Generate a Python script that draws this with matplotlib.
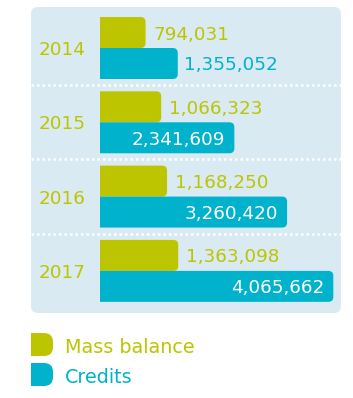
import matplotlib
matplotlib.use("Agg")
import matplotlib.pyplot as plt
from matplotlib.patches import FancyBboxPatch, Rectangle
import matplotlib.transforms as mtransforms

years = ["2014", "2015", "2016", "2017"]
mass_balance = [794031, 1066323, 1168250, 1363098]
credits = [1355052, 2341609, 3260420, 4065662]
legend_labels = ["Mass balance", "Credits"]

GREEN = "#bdc500"
BLUE = "#00b2cb"
BG = "#d9eaf2"
FS = 13.2

W, H = 353, 398
fig = plt.figure(figsize=(W / 100, H / 100), dpi=100)

# panel background
panel = FancyBboxPatch((31 / W, 1 - 313 / H), 310 / W, 306 / H,
                       boxstyle="round,pad=0,rounding_size=%f" % (7 / W),
                       mutation_aspect=W / H, transform=fig.transFigure,
                       facecolor=BG, edgecolor="none", zorder=-5)
fig.patches.append(panel)

ax = fig.add_axes([100 / W, 1 - 313 / H, 241 / W, 306 / H])
ax.set_zorder(2)
ax.set_facecolor("none")
for s in ax.spines.values():
    s.set_visible(False)
ax.set_xticks([])
ax.set_yticks([])
xmax = 4.2e6
ax.set_xlim(0, xmax)
ax.set_ylim(3.567, -0.552)

bh = 0.417
idx = list(range(len(years)))
g_bars = ax.barh([i - bh / 2 for i in idx], mass_balance, height=bh, color=GREEN)
b_bars = ax.barh([i + bh / 2 for i in idx], credits, height=bh, color=BLUE)

# round right corners
xpp = xmax / 241.0
ypp = (3.567 + 0.552) / 306.0
r = 5 * xpp
for bars in (g_bars, b_bars):
    for rect in bars:
        rect.set_visible(False)
        x0, y0 = rect.get_x(), rect.get_y()
        w, h = rect.get_width(), rect.get_height()
        p = FancyBboxPatch((x0 - 3 * r, y0), w + 3 * r, h,
                           boxstyle="round,pad=0,rounding_size=%f" % r,
                           mutation_aspect=ypp / xpp,
                           facecolor=rect.get_facecolor(), edgecolor="none",
                           zorder=2)
        ax.add_patch(p)

# separators
tr = mtransforms.blended_transform_factory(ax.transAxes, ax.transData)
for i in idx[:-1]:
    ax.plot([-69 / 241, 1.0], [i + 0.5, i + 0.5], transform=tr, color="white",
            lw=1.8, linestyle=(0, (1, 1.2)), clip_on=False, zorder=3,
            solid_capstyle="butt", dash_capstyle="butt")

# year labels
for i, y in enumerate(years):
    ax.annotate(y, xy=(0, i), xycoords=("axes fraction", "data"),
                xytext=(-38, 0), textcoords="offset pixels",
                ha="center", va="center_baseline", color=GREEN, fontsize=FS)

# value labels
for i in idx:
    ax.annotate(f"{mass_balance[i]:,}", xy=(mass_balance[i], i - bh / 2),
                xytext=(8, 0), textcoords="offset pixels",
                ha="left", va="center_baseline", color=GREEN, fontsize=FS)
    v = credits[i]
    if v / xpp > 110:
        ax.annotate(f"{v:,}", xy=(v, i + bh / 2), xytext=(-9, 0),
                    textcoords="offset pixels", ha="right",
                    va="center_baseline", color="white", fontsize=FS, zorder=4)
    else:
        ax.annotate(f"{v:,}", xy=(v, i + bh / 2), xytext=(6, 0),
                    textcoords="offset pixels", ha="left",
                    va="center_baseline", color=BLUE, fontsize=FS)

# legend
for k, (lab, col) in enumerate(zip(legend_labels, [GREEN, BLUE])):
    top = 333 + k * 30
    hgt = 23
    y0 = 1 - (top + hgt) / H
    fig.patches.append(Rectangle((31 / W, y0), 11 / W, hgt / H,
                                 transform=fig.transFigure, facecolor=col,
                                 edgecolor="none"))
    fig.patches.append(FancyBboxPatch((31 / W, y0), 22 / W, hgt / H,
                                      boxstyle="round,pad=0,rounding_size=%f" % (9 / W),
                                      mutation_aspect=W / H,
                                      transform=fig.transFigure,
                                      facecolor=col, edgecolor="none"))
    fig.text(65 / W, 1 - (top + hgt / 2 + 1) / H, lab, color=col, fontsize=13.8,
             ha="left", va="center_baseline")

fig.savefig("out.png", dpi=100)
